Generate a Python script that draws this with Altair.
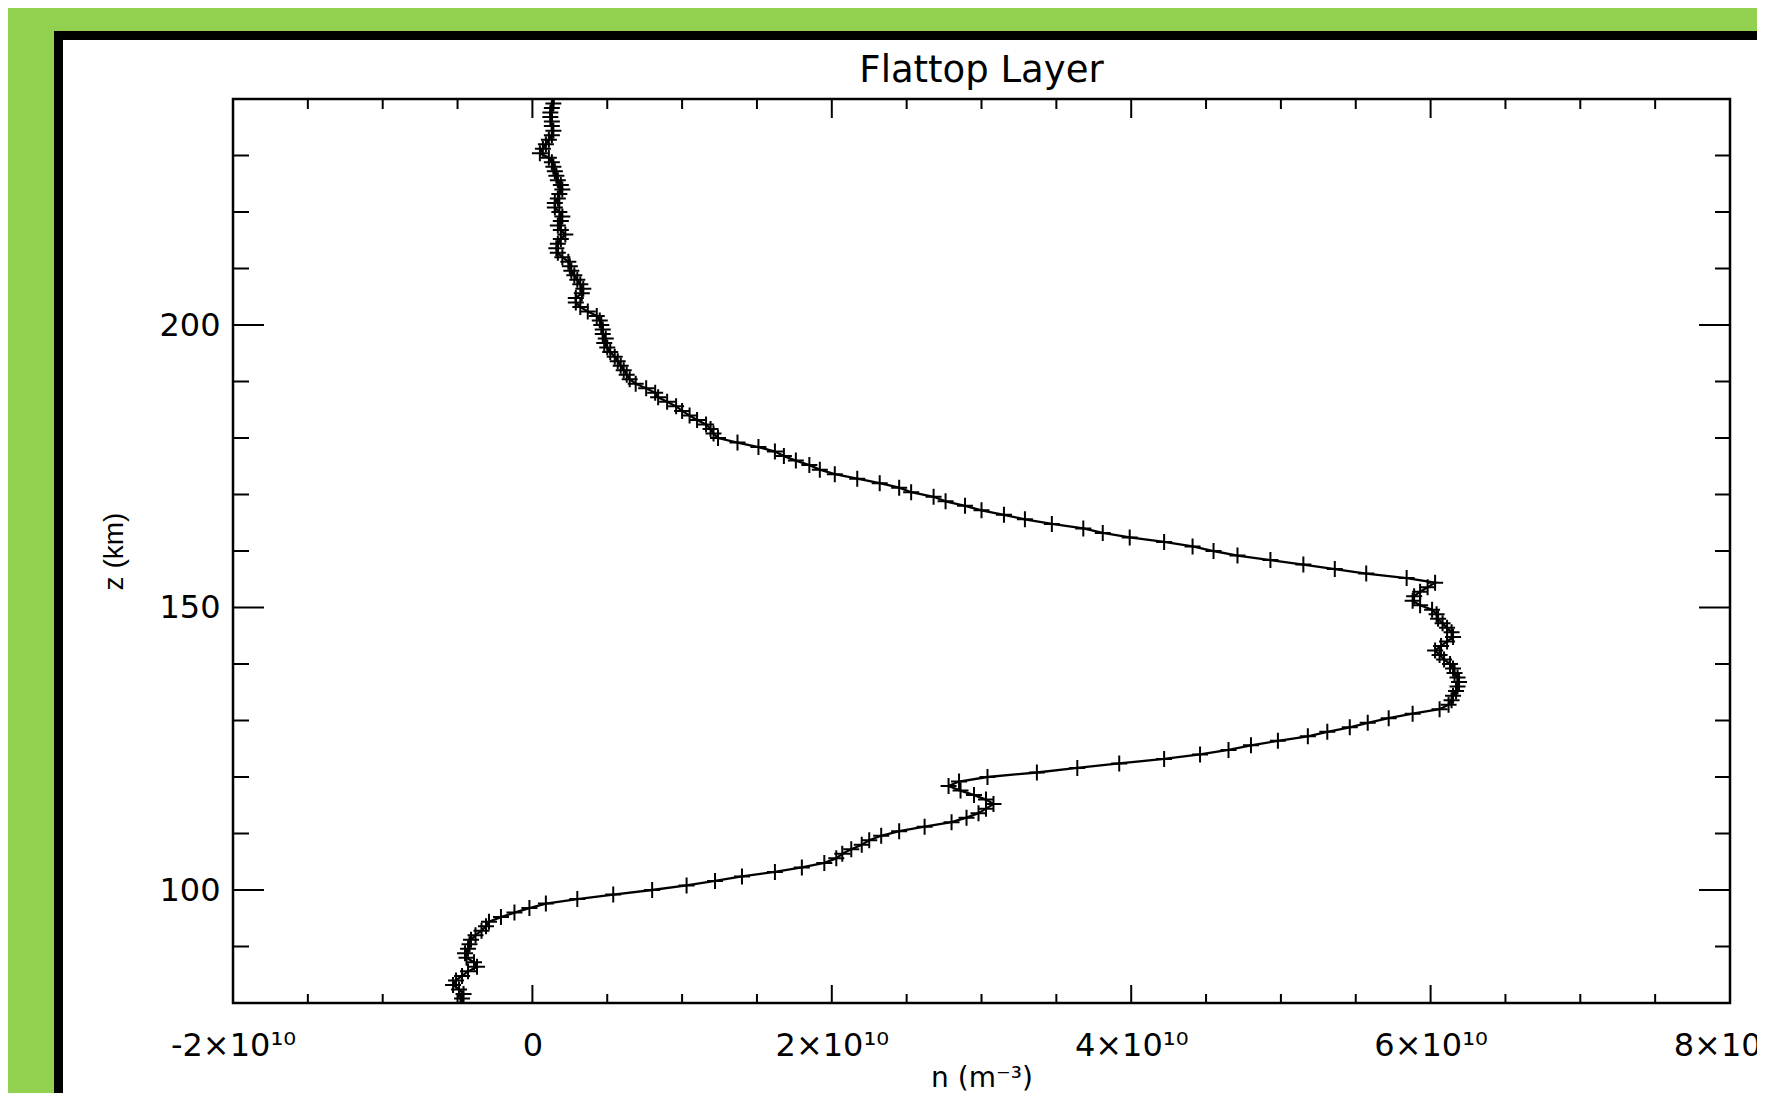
import altair as alt
import pandas as pd

# ---------------- data ----------------
z_km = [
    80.0, 80.8, 81.6, 82.4, 83.2, 84.0, 84.8, 85.6, 86.4, 87.2,
    88.0, 88.8, 89.6, 90.4, 91.2, 92.0, 92.8, 93.6, 94.4, 95.2,
    96.0, 96.8, 97.6, 98.4, 99.2, 100.0, 100.8, 101.6, 102.4, 103.2,
    104.0, 104.8, 105.6, 106.4, 107.2, 108.0, 108.8, 109.6, 110.4, 111.2,
    112.0, 112.8, 113.6, 114.4, 115.2, 116.0, 116.8, 117.6, 118.4, 119.2,
    120.0, 120.8, 121.6, 122.4, 123.2, 124.0, 124.8, 125.6, 126.4, 127.2,
    128.0, 128.8, 129.6, 130.4, 131.2, 132.0, 132.8, 133.6, 134.4, 135.2,
    136.0, 136.8, 137.6, 138.4, 139.2, 140.0, 140.8, 141.6, 142.4, 143.2,
    144.0, 144.8, 145.6, 146.4, 147.2, 148.0, 148.8, 149.6, 150.4, 151.2,
    152.0, 152.8, 153.6, 154.4, 155.2, 156.0, 156.8, 157.6, 158.4, 159.2,
    160.0, 160.8, 161.6, 162.4, 163.2, 164.0, 164.8, 165.6, 166.4, 167.2,
    168.0, 168.8, 169.6, 170.4, 171.2, 172.0, 172.8, 173.6, 174.4, 175.2,
    176.0, 176.8, 177.6, 178.4, 179.2, 180.0, 180.8, 181.6, 182.4, 183.2,
    184.0, 184.8, 185.6, 186.4, 187.2, 188.0, 188.8, 189.6, 190.4, 191.2,
    192.0, 192.8, 193.6, 194.4, 195.2, 196.0, 196.8, 197.6, 198.4, 199.2,
    200.0, 200.8, 201.6, 202.4, 203.2, 204.0, 204.8, 205.6, 206.4, 207.2,
    208.0, 208.8, 209.6, 210.4, 211.2, 212.0, 212.8, 213.6, 214.4, 215.2,
    216.0, 216.8, 217.6, 218.4, 219.2, 220.0, 220.8, 221.6, 222.4, 223.2,
    224.0, 224.8, 225.6, 226.4, 227.2, 228.0, 228.8, 229.6, 230.4, 231.2,
    232.0, 232.8, 233.6, 234.4, 235.2, 236.0, 236.8, 237.6, 238.4, 239.2,
    240.0,
]

# density in units of 1e10 m^-3
n_1e10 = [
    -0.48, -0.47, -0.46, -0.49, -0.53, -0.51, -0.47, -0.43, -0.37, -0.39,
    -0.44, -0.45, -0.43, -0.42, -0.41, -0.38, -0.34, -0.31, -0.29, -0.21,
    -0.12, -0.02, 0.09, 0.30, 0.54, 0.80, 1.03, 1.22, 1.40, 1.62,
    1.80, 1.95, 2.03, 2.07, 2.13, 2.20, 2.25, 2.33, 2.45, 2.62,
    2.80, 2.90, 2.98, 3.03, 3.08, 3.03, 2.95, 2.86, 2.78, 2.85,
    3.04, 3.37, 3.64, 3.92, 4.22, 4.46, 4.65, 4.80, 4.98, 5.18,
    5.31, 5.46, 5.58, 5.72, 5.88, 6.06, 6.12, 6.14, 6.15, 6.17,
    6.18, 6.19, 6.18, 6.16, 6.15, 6.13, 6.09, 6.06, 6.03, 6.07,
    6.11, 6.15, 6.14, 6.11, 6.08, 6.05, 6.04, 6.01, 5.93, 5.88,
    5.89, 5.93, 5.98, 6.03, 5.84, 5.57, 5.36, 5.15, 4.93, 4.71,
    4.55, 4.41, 4.22, 3.99, 3.81, 3.68, 3.47, 3.29, 3.15, 3.00,
    2.89, 2.76, 2.68, 2.53, 2.45, 2.32, 2.17, 2.02, 1.92, 1.85,
    1.76, 1.68, 1.62, 1.51, 1.37, 1.24, 1.21, 1.19, 1.16, 1.10,
    1.05, 1.00, 0.96, 0.90, 0.84, 0.82, 0.76, 0.69, 0.65, 0.63,
    0.61, 0.59, 0.57, 0.55, 0.52, 0.50, 0.48, 0.49, 0.47, 0.47,
    0.46, 0.45, 0.43, 0.37, 0.32, 0.29, 0.29, 0.33, 0.34, 0.32,
    0.30, 0.28, 0.26, 0.25, 0.24, 0.20, 0.17, 0.16, 0.17, 0.19,
    0.22, 0.19, 0.17, 0.19, 0.20, 0.18, 0.15, 0.15, 0.17, 0.18,
    0.20, 0.19, 0.17, 0.16, 0.15, 0.14, 0.13, 0.11, 0.05, 0.07,
    0.09, 0.11, 0.13, 0.14, 0.13, 0.13, 0.12, 0.12, 0.13, 0.14,
    0.14,
]
assert len(z_km) == len(n_1e10)

x_major = [-2, 0, 2, 4, 6, 8]
x_major_labels = ["-2×10¹⁰", "0", "2×10¹⁰", "4×10¹⁰", "6×10¹⁰", "8×10¹⁰"]
x_minor = [-1.5, -1, -0.5, 0.5, 1, 1.5, 2.5, 3, 3.5, 4.5, 5, 5.5, 6.5, 7, 7.5]
y_major = [100, 150, 200]
y_minor = [90, 110, 120, 130, 140, 160, 170, 180, 190, 210, 220, 230]

title_text = "Flattop Layer"
x_title = "n (m⁻³)"
y_title = "z (km)"

# ---------------- layout ----------------
W, H = 1497, 904
FONT = "DejaVu Sans"
PLUS = "M-1,0L1,0M0,-1L0,1"

xs = alt.Scale(domain=[-2, 8], nice=False, zero=False)
ys = alt.Scale(domain=[80, 240], nice=False, zero=False)

label_expr = " : ".join(
    f"datum.value == {v} ? '{t}'" for v, t in zip(x_major, x_major_labels)
) + " : ''"

x_axis = alt.Axis(
    values=x_major, labelExpr=label_expr, ticks=False, domain=False, grid=False,
    labelFlush=False, labelOverlap=False, labelPadding=27,
    labelFont=FONT, labelFontSize=32, labelColor="black",
    title=x_title, titleFont=FONT, titleFontSize=28, titleFontWeight="normal",
    titleColor="black", titleX=W / 2, titleY=83, titleBaseline="alphabetic",
    titleAlign="center", zindex=1,
)
y_axis = alt.Axis(
    values=y_major, ticks=False, domain=False, grid=False,
    labelFlush=False, labelOverlap=False, labelPadding=13,
    labelFont=FONT, labelFontSize=32, labelColor="black",
    title=y_title, titleFont="Liberation Sans", titleFontSize=28,
    titleFontWeight="normal", titleColor="black", titleAngle=270,
    titleX=-105, titleY=H / 2, titleBaseline="bottom", titleAlign="center",
    zindex=1,
)

one = alt.Data(values=[{}])

bg_black = alt.Chart(one).mark_rect(color="black").encode(
    x=alt.value(-179), x2=alt.value(W + 400), y=alt.value(-68), y2=alt.value(H + 300)
)
bg_white = alt.Chart(one).mark_rect(color="white").encode(
    x=alt.value(-170), x2=alt.value(W + 400), y=alt.value(-59), y2=alt.value(H + 300)
)

title = alt.Chart(one).mark_text(
    text=title_text, font=FONT, fontSize=37, color="black",
    align="center", baseline="alphabetic",
).encode(x=alt.value(W / 2), y=alt.value(-17))

def xticks(vals, y0, y1):
    return alt.Chart(pd.DataFrame({"t": vals})).mark_rule(color="black", strokeWidth=2).encode(
        x=alt.X("t:Q", scale=xs, axis=x_axis), y=alt.value(y0), y2=alt.value(y1)
    )

def yticks(vals, x0, x1):
    return alt.Chart(pd.DataFrame({"t": vals})).mark_rule(color="black", strokeWidth=2).encode(
        y=alt.Y("t:Q", scale=ys, axis=y_axis), x=alt.value(x0), x2=alt.value(x1)
    )

tick_layers = [
    xticks(x_major, H, H - 18), xticks(x_minor, H, H - 9),
    xticks(x_major, 0, 19), xticks(x_minor, 0, 10),
    yticks(y_major, 0, 31), yticks(y_minor, 0, 16),
    yticks(y_major, W, W - 31), yticks(y_minor, W, W - 15),
]

df = pd.DataFrame({"z": z_km, "n": n_1e10})
enc = dict(
    x=alt.X("n:Q", scale=xs, axis=x_axis),
    y=alt.Y("z:Q", scale=ys, axis=y_axis),
    order=alt.Order("z:Q"),
)
line = alt.Chart(df).mark_line(color="black", strokeWidth=2.3, clip=True).encode(**enc)
points = alt.Chart(df).mark_point(
    shape=PLUS, filled=False, size=256, strokeWidth=2, color="black", opacity=1, clip=True
).encode(x=enc["x"], y=enc["y"])

frame = alt.Chart(one).mark_rect(filled=False, color="black", strokeWidth=2.5).encode(
    x=alt.X(datum=-2, scale=xs, axis=x_axis), x2=alt.X2(datum=8),
    y=alt.Y(datum=80, scale=ys, axis=y_axis), y2=alt.Y2(datum=240),
)

chart = alt.layer(bg_black, bg_white, title, *tick_layers, line, points, frame).properties(
    width=W, height=H,
    autosize=alt.AutoSizeParams(type="none"),
    padding={"left": 225, "top": 91, "right": 27, "bottom": 90},
    background="#92D050",
).configure_view(stroke="transparent")

chart.save("out.html", embed_options={"renderer": "svg", "actions": False})
